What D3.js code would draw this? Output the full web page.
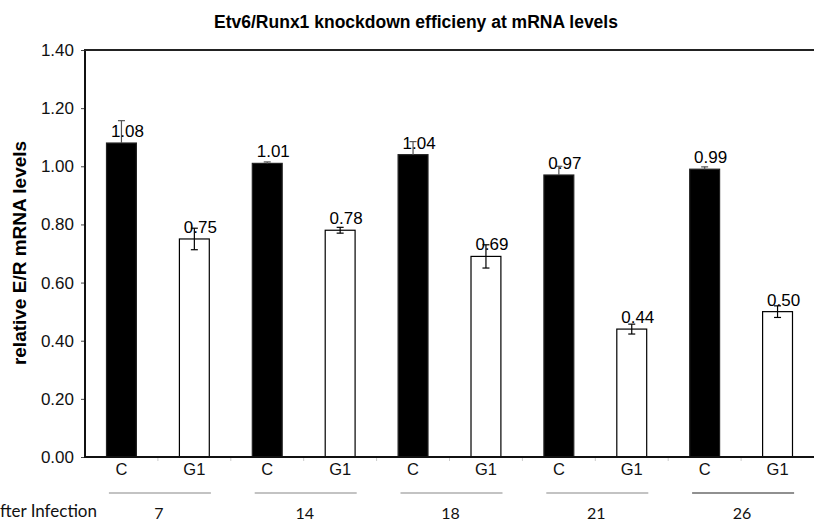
<!DOCTYPE html>
<html><head><meta charset="utf-8">
<script src="https://cdn.jsdelivr.net/npm/d3@7"></script>
<style>body{margin:0;background:#fff;} svg{display:block;}</style>
</head><body>
<svg id="c" width="814" height="521"></svg>
<script>
const days = ["7","14","18","21","26"];
const conditions = ["C","G1"];
const controlValues = [1.08, 1.01, 1.04, 0.97, 0.99];
const g1Values = [0.75, 0.78, 0.69, 0.44, 0.50];
const controlErrors = [0.077, 0.005, 0.045, 0.03, 0.008];
const g1Errors = [0.037, 0.01, 0.04, 0.017, 0.02];
const yTicks = [0, 0.2, 0.4, 0.6, 0.8, 1.0, 1.2, 1.4];

const bars = [];
days.forEach((d,i)=>{
  bars.push({key:d+"-C", day:d, cond:"C", v:controlValues[i], e:controlErrors[i]});
  bars.push({key:d+"-G1", day:d, cond:"G1", v:g1Values[i], e:g1Errors[i]});
});

const svg = d3.select("#c");
const L=85, R=814, T=50, B=457;
const x = d3.scaleBand().domain(bars.map(b=>b.key)).range([L,R]).paddingInner(0.59).paddingOuter(0.295);
const y = d3.scaleLinear().domain([0,1.4]).range([B,T]);
const font = "'Liberation Sans', Arial, sans-serif";

// title
svg.append("text").attr("x",416).attr("y",28).attr("text-anchor","middle")
  .attr("font-family",font).attr("font-weight","bold").attr("font-size",17.5)
  .text("Etv6/Runx1 knockdown efficieny at mRNA levels");

// y axis label
svg.append("text").attr("transform","translate(26,253) rotate(-90)").attr("text-anchor","middle")
  .attr("font-family",font).attr("font-weight","bold").attr("font-size",19)
  .text("relative E/R mRNA levels");

// bars
svg.selectAll("rect.bar").data(bars).enter().append("rect")
  .attr("x",d=>x(d.key)).attr("width",x.bandwidth())
  .attr("y",d=>y(d.v)).attr("height",d=>y(0)-y(d.v))
  .attr("fill",d=>d.cond==="C"?"#000":"#fff")
  .attr("stroke",d=>d.cond==="C"?"#222":"#000").attr("stroke-width",1.2);

// error bars
const cx0 = d=>x(d.key)+x.bandwidth()/2;
const eb = svg.selectAll("g.eb").data(bars).enter().append("g")
  .attr("stroke",d=>d.cond==="C"?"#555":"#000").attr("stroke-width",1.2);
eb.append("line").attr("x1",cx0).attr("x2",cx0)
  .attr("y1",d=>y(d.v+d.e)).attr("y2",d=>d.cond==="C"?y(d.v):y(d.v-d.e));
eb.append("line").attr("x1",d=>cx0(d)-3.5).attr("x2",d=>cx0(d)+3.5)
  .attr("y1",d=>y(d.v+d.e)).attr("y2",d=>y(d.v+d.e));
eb.filter(d=>d.cond==="G1").append("line").attr("x1",d=>cx0(d)-3.5).attr("x2",d=>cx0(d)+3.5)
  .attr("y1",d=>y(d.v-d.e)).attr("y2",d=>y(d.v-d.e));

// value labels
svg.selectAll("text.val").data(bars).enter().append("text")
  .attr("x",d=>cx0(d)+6).attr("y",d=>y(d.v)-6)
  .attr("text-anchor","middle").attr("font-family",font).attr("font-size",17)
  .text(d=>d.v.toFixed(2));

// y axis
const yAxis = svg.append("g").attr("transform",`translate(${L},0)`)
  .call(d3.axisLeft(y).tickValues(yTicks).tickFormat(d3.format(".2f")).tickSize(4).tickPadding(7));
yAxis.select(".domain").remove();
yAxis.selectAll("text").attr("font-family",font).attr("font-size",17).attr("fill","#111");
yAxis.selectAll("line").attr("stroke","#444");

// frame lines
svg.append("line").attr("x1",L).attr("x2",L).attr("y1",T-1).attr("y2",B+1).attr("stroke","#111").attr("stroke-width",2);
svg.append("line").attr("x1",L-1).attr("x2",R).attr("y1",T).attr("y2",T).attr("stroke","#222").attr("stroke-width",2.2);
svg.append("line").attr("x1",L-1).attr("x2",R).attr("y1",B).attr("y2",B).attr("stroke","#111").attr("stroke-width",2);

// x axis
const xAxis = svg.append("g").attr("transform",`translate(0,${B})`)
  .call(d3.axisBottom(x).tickFormat(k=>k.split("-")[1]).tickSize(0).tickPadding(6));
xAxis.select(".domain").remove();
xAxis.selectAll("text").attr("font-family",font).attr("font-size",16.5).attr("fill","#111");
// boundary ticks
const boundaries = d3.range(1,bars.length).map(i=>L + i*(R-L)/bars.length);
svg.selectAll("line.bt").data(boundaries).enter().append("line")
  .attr("x1",d=>d).attr("x2",d=>d).attr("y1",B+1).attr("y2",B+4).attr("stroke","#ccc");

// group lines and labels
const groupFont = "Lato, 'Open Sans', sans-serif";
days.forEach((d,i)=>{
  const cx = (x(d+"-C") + x(d+"-G1") + x.bandwidth())/2 + 2;
  svg.append("line").attr("x1",cx-51).attr("x2",cx+51).attr("y1",493).attr("y2",493)
    .attr("stroke", i===days.length-1 ? "#222" : "#888").attr("stroke-width",1.2);
  svg.append("text").attr("x",cx-1).attr("y",519).attr("text-anchor","middle")
    .attr("font-family",groupFont).attr("font-size",16).attr("fill","#111").text(d);
});
svg.append("text").attr("x",97).attr("y",517).attr("text-anchor","end")
  .attr("font-family",groupFont).attr("font-size",17).attr("fill","#111").text("Days after Infection");
</script>
</body></html>
